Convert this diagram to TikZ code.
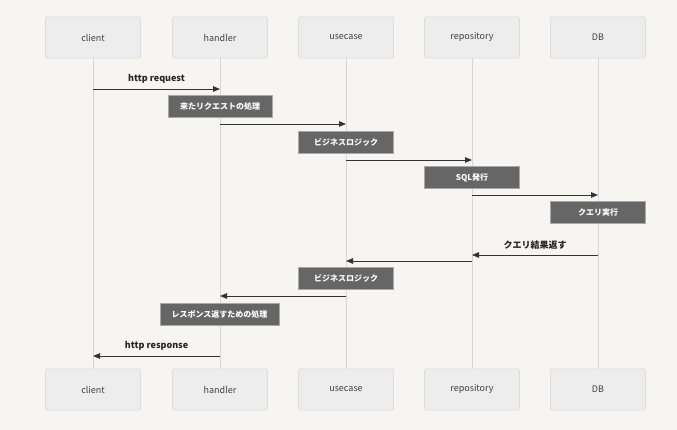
\documentclass[tikz,border=0pt]{standalone}
\usepackage{fontspec}
\setmainfont{Noto Sans CJK JP}
\usetikzlibrary{arrows.meta}
\definecolor{bgc}{HTML}{F6F5F1}
\definecolor{actfill}{HTML}{EDEDED}
\definecolor{actline}{HTML}{DDDDDD}
\definecolor{lifec}{HTML}{D6D6D6}
\definecolor{notefill}{HTML}{666666}
\definecolor{noteline}{HTML}{A8A8A8}
\definecolor{msgc}{HTML}{333333}
\tikzset{
  actor/.style={draw=actline, fill=actfill, rounded corners=1.5pt, line width=0.8pt,
    minimum width=95pt, minimum height=41pt, inner sep=0pt,
    font=\fontsize{9}{10}\selectfont, text=black!75},
  lifeline/.style={draw=lifec, line width=1pt},
  notebox/.style={draw=noteline, fill=notefill, line width=0.8pt, minimum height=22pt,
    inner sep=0pt, text=white, font=\fontsize{8}{9}\selectfont\bfseries},
  msg/.style={draw=msgc, line width=0.9pt, -{Triangle[length=7pt,width=5.5pt]}},
  msglabel/.style={font=\fontsize{9}{10}\selectfont\bfseries, text=black!85, inner sep=0pt}
}
\begin{document}
\begin{tikzpicture}[x=1pt, y=-1pt]
\fill[bgc] (0,0) rectangle (677,430);
\useasboundingbox (0,0) rectangle (677,430);

% participants, top and bottom
\foreach \n/\x/\t in {c/93/client, h/220/handler, u/346/usecase, r/472/repository, d/598/DB}{
  \node[actor] (\n top) at (\x,37.5) {\t};
  \node[actor] (\n bot) at (\x,389.5) {\t};
  \draw[lifeline] (\n top.south) -- (\n bot.north);
}

% message end points on the lifelines
\path (ctop |- 0,89)  coordinate (c1) (htop |- 0,89)  coordinate (h1)
      (htop |- 0,124) coordinate (h2) (utop |- 0,124) coordinate (u2)
      (utop |- 0,160) coordinate (u3) (rtop |- 0,160) coordinate (r3)
      (rtop |- 0,195) coordinate (r4) (dtop |- 0,195) coordinate (d4)
      (dtop |- 0,255) coordinate (d5) (rtop |- 0,255) coordinate (r5)
      (rtop |- 0,261) coordinate (r6) (utop |- 0,261) coordinate (u6)
      (utop |- 0,296) coordinate (u7) (htop |- 0,296) coordinate (h7)
      (htop |- 0,356) coordinate (h8) (ctop |- 0,356) coordinate (c8);

% messages
\draw[msg] (c1) -- node[msglabel, above=5.5pt] (l1) {http request} (h1);
\draw[msg] (h2) -- (u2);
\draw[msg] (u3) -- (r3);
\draw[msg] (r4) -- (d4);
\draw[msg] (d5) -- node[msglabel, above=5.5pt] (l5) {クエリ結果返す} (r5);
\draw[msg] (r6) -- (u6);
\draw[msg] (u7) -- (h7);
\draw[msg] (h8) -- node[msglabel, above=5.5pt] (l8) {http response} (c8);

% notes over the lifelines
\node[notebox, minimum width=104pt] (n1) at (220,106) {来たリクエストの処理};
\node[notebox, minimum width=95pt]  (n2) at (346,142) {ビジネスロジック};
\node[notebox, minimum width=95pt]  (n3) at (472,177.5) {SQL発行};
\node[notebox, minimum width=95pt]  (n4) at (598,212.5) {クエリ実行};
\node[notebox, minimum width=95pt]  (n5) at (346,278.5) {ビジネスロジック};
\node[notebox, minimum width=119pt] (n6) at (219.5,314.5) {レスポンス返すための処理};
\end{tikzpicture}
\end{document}
